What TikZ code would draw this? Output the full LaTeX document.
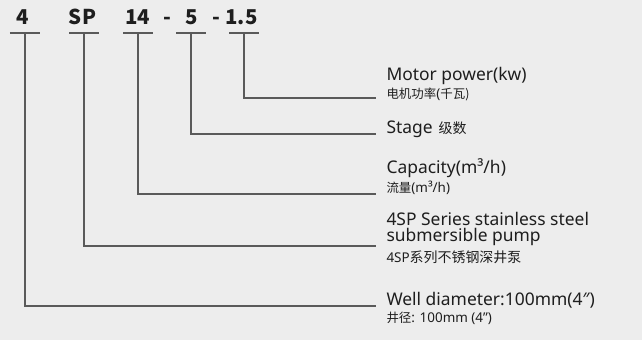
\documentclass[tikz,border=0pt]{standalone}
\usepackage{fontspec}
\setmainfont{Noto Sans}
\newfontfamily\cjk{Noto Sans CJK SC}
\usetikzlibrary{positioning}
\definecolor{paper}{HTML}{EDEDED}
\definecolor{leader}{HTML}{5A5A5A}
\definecolor{ink}{HTML}{1E1E1E}

\begin{document}
\begin{tikzpicture}[x=1bp, y=-1bp, line width=1.3bp, inner sep=0pt, outer sep=0pt]
		\tikzstyle{code}=[text=ink,anchor=base,font=\cjk\fontsize{20.5}{20.5}\selectfont\bfseries]
		\tikzstyle{bar}=[draw=leader]
		\tikzstyle{desc}=[text=ink,anchor=base west,align=left,font=\fontsize{17.5}{15.5}\selectfont]
		\tikzstyle{sub}=[text=ink,anchor=base west,font=\fontsize{13.5}{13.5}\selectfont]
		\fill[paper] (0,0) rectangle (642,340);
		% model code
		\node[code]    (d)    at (23,24)    {4};
		\node[code]    (sp)   at (82.5,24)  {SP};
		\node[code]    (cap)  at (137.5,24) {14};
		\node[code]    (h1)   at (167.5,24) {-};
		\node[code]    (st)   at (191.5,24) {5};
		\node[code]    (h2)   at (216,24)   {-};
		\node[code]    (kw)   at (241.5,24) {1.5};
		% bars under the code
		\coordinate (d-b)   at (25,33);
		\coordinate (sp-b)  at (84,33);
		\coordinate (cap-b) at (138,33);
		\coordinate (st-b)  at (191,33);
		\coordinate (kw-b)  at (244,33);
		\foreach \b in {d-b,sp-b,cap-b,st-b,kw-b}
			\draw[bar] ([xshift=-15bp]\b) -- ([xshift=15bp]\b);
		% line ends
		\coordinate (kw-e)  at (376,98);
		\coordinate (st-e)  at (376,134);
		\coordinate (cap-e) at (376,194);
		\coordinate (sp-e)  at (376,246);
		\coordinate (d-e)   at (376,306);
		\draw[bar] (kw-b)  |- (kw-e);
		\draw[bar] (st-b)  |- (st-e);
		\draw[bar] (cap-b) |- (cap-e);
		\draw[bar] (sp-b)  |- (sp-e);
		\draw[bar] (d-b)   |- (d-e);
		% descriptions
		\node[desc]    (power)     at (386.5,80.7)  {Motor power(kw)};
		\node[sub]     (power-cn)  at ([yshift=-18bp]power.base west) {{\cjk\fontsize{12.5}{12.5}\selectfont 电机功率}(\cjk\fontsize{12.5}{12.5}\selectfont 千瓦)};
		\node[desc]    (stage)     at (386.5,133.3) {Stage};
		\node[sub]     (stage-cn)  [right=6bp of stage.base east,anchor=base west] {\cjk\fontsize{14}{14}\selectfont 级数};
		\node[desc]    (flow)      at (386.5,173.3) {Capacity(m³/h)};
		\node[sub]     (flow-cn)   at ([yshift=-19bp]flow.base west) {{\cjk\fontsize{12.5}{12.5}\selectfont 流量}(m³/h)};
		\node[desc]    (series)    at (386.5,241)   {4SP Series stainless steel\\submersible pump};
		\node[sub]     (series-cn) at ([yshift=-21bp]series.base west) {4SP{\cjk\fontsize{14}{14}\selectfont 系列不锈钢深井泵}};
		\node[desc]    (well)      at (386.5,305.7) {Well diameter:100mm(4″)};
		\node[sub]     (well-cn)   at ([yshift=-16.5bp]well.base west) {{\cjk\fontsize{12.5}{12.5}\selectfont 井径}: 100mm (4")};
	\end{tikzpicture}
\end{document}
